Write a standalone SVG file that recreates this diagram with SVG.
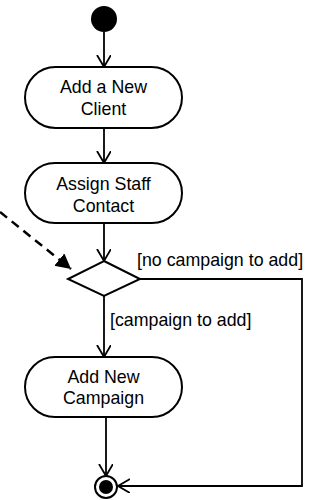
<svg xmlns="http://www.w3.org/2000/svg" width="322" height="500" viewBox="0 0 322 500">
<defs>
<style>
.node{fill:#fff;stroke:#000;stroke-width:2}
.edge{fill:none;stroke:#000;stroke-width:1.8}
.head{fill:none;stroke:#000;stroke-width:1.8}
.dash{fill:none;stroke:#000;stroke-width:2.5;stroke-dasharray:9 6}
text{font-family:"Liberation Sans",Arial,sans-serif;font-size:17.8px;fill:#000}
.c{text-anchor:middle}
</style>
<marker id="open" markerWidth="16" markerHeight="16" refX="12" refY="7" orient="auto" markerUnits="userSpaceOnUse">
<path d="M0,0 L12,7 L0,14" fill="none" stroke="#000" stroke-width="1.8"/>
</marker>
<marker id="filled" markerWidth="18" markerHeight="18" refX="15" refY="8" orient="auto" markerUnits="userSpaceOnUse">
<path d="M0,0 L15,8 L0,16 Z" fill="#000"/>
</marker>
</defs>
<g id="connectors">
<line class="edge" x1="104" y1="32" x2="104" y2="67" marker-end="url(#open)"/>
<line class="edge" x1="104" y1="128" x2="104" y2="163" marker-end="url(#open)"/>
<line class="edge" x1="104" y1="223" x2="104" y2="261" marker-end="url(#open)"/>
<line class="edge" x1="104" y1="296" x2="104" y2="357" marker-end="url(#open)"/>
<line class="edge" x1="106" y1="417" x2="106" y2="476" marker-end="url(#open)"/>
<polyline class="edge" points="140,279 302,279 302,486 118,486" marker-end="url(#open)"/>
<line class="dash" x1="0" y1="212" x2="71" y2="269" marker-end="url(#filled)"/>
<text x="137" y="266">[no campaign to add]</text>
<text x="110" y="326">[campaign to add]</text>
</g>
<g id="start">
<circle cx="104" cy="19" r="13" fill="#000"/>
</g>
<g id="addClient">
<rect class="node" x="25" y="67" width="157" height="61" rx="30.5"/>
<text class="c" x="103.5" y="93">Add a New</text>
<text class="c" x="103.5" y="115">Client</text>
</g>
<g id="assignStaff">
<rect class="node" x="25" y="163" width="157" height="60" rx="30"/>
<text class="c" x="103.5" y="190">Assign Staff</text>
<text class="c" x="103.5" y="212">Contact</text>
</g>
<g id="decision">
<polygon class="node" points="104,261 140,279 104,296 68,279"/>
</g>
<g id="addCampaign">
<rect class="node" x="25" y="357" width="157" height="60" rx="30"/>
<text class="c" x="103.5" y="383">Add New</text>
<text class="c" x="103.5" y="404">Campaign</text>
</g>
<g id="end">
<circle cx="106" cy="487" r="11" fill="#fff" stroke="#000" stroke-width="2"/>
<circle cx="106" cy="487" r="7" fill="#000"/>
</g>
</svg>
